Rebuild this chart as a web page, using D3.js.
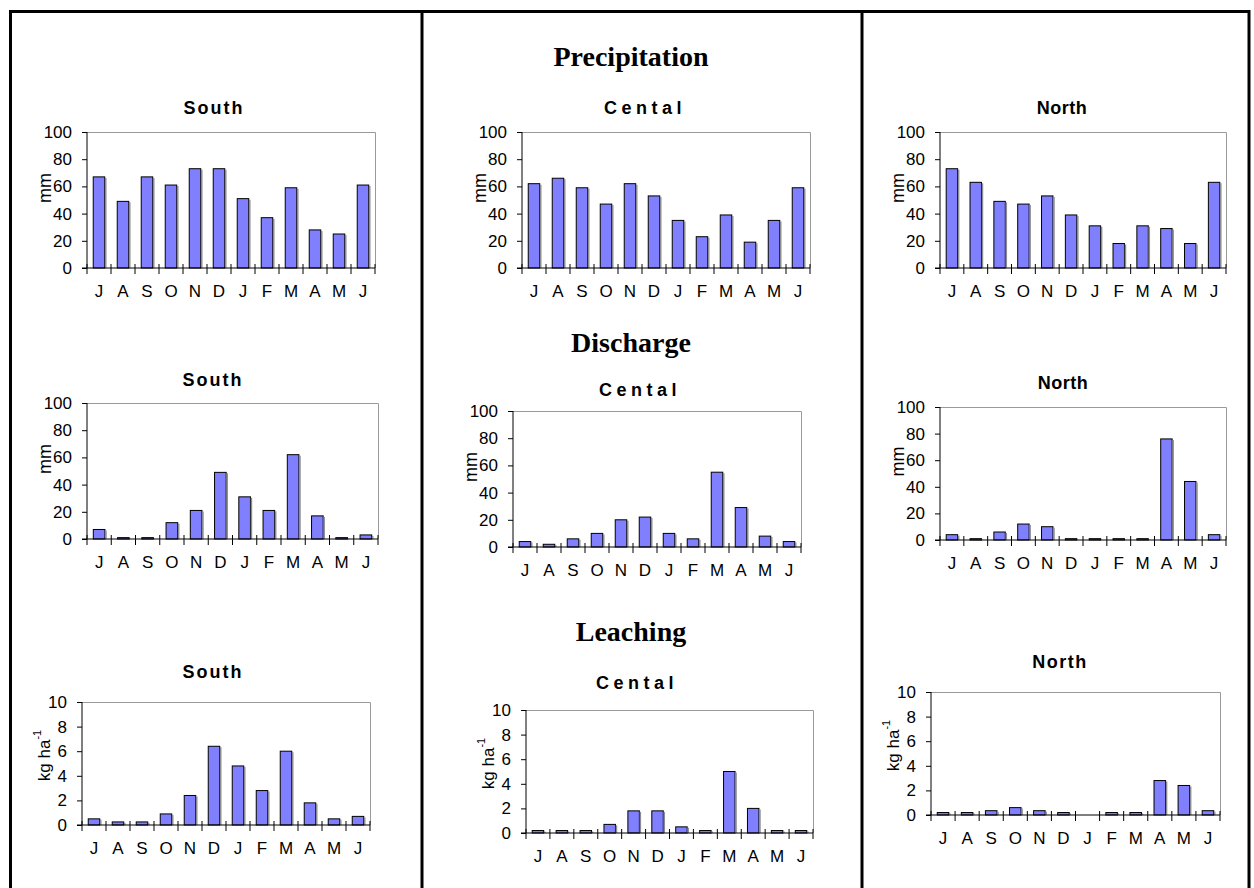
<!DOCTYPE html>
<html>
<head>
<meta charset="utf-8">
<script src="https://cdn.jsdelivr.net/npm/d3@7"></script>
<style>
  html, body { margin: 0; padding: 0; background: #fff; }
  svg { display: block; }
</style>
</head>
<body>
<svg id="chart" width="1254" height="888"></svg>
<script>
// Monthly values, hydrological year July -> June
const months = ["J", "A", "S", "O", "N", "D", "J", "F", "M", "A", "M", "J"];

const precipSouth   = [67, 49, 67, 61, 73, 73, 51, 37, 59, 28, 25, 61];
const precipCentral = [62, 66, 59, 47, 62, 53, 35, 23, 39, 19, 35, 59];
const precipNorth   = [73, 63, 49, 47, 53, 39, 31, 18, 31, 29, 18, 63];

const dischargeSouth   = [7, 1, 1, 12, 21, 49, 31, 21, 62, 17, 1, 3];
const dischargeCentral = [4, 2, 6, 10, 20, 22, 10, 6, 55, 29, 8, 4];
const dischargeNorth   = [4, 1, 6, 12, 10, 1, 1, 1, 1, 76, 44, 4];

const leachingSouth   = [0.5, 0.25, 0.25, 0.9, 2.4, 6.4, 4.8, 2.8, 6.0, 1.8, 0.5, 0.7];
const leachingCentral = [0.2, 0.2, 0.2, 0.7, 1.8, 1.8, 0.5, 0.2, 5.0, 2.0, 0.2, 0.2];
const leachingNorth   = [0.2, 0.2, 0.35, 0.6, 0.35, 0.2, 0, 0.2, 0.2, 2.8, 2.4, 0.35];

const mmTicks = [0, 20, 40, 60, 80, 100];
const kgTicks = [0, 2, 4, 6, 8, 10];

const sectionTitles = ["Precipitation", "Discharge", "Leaching"];

const SANS = "'Liberation Sans', Arial, sans-serif";
const SERIF = "'Liberation Serif', 'Times New Roman', serif";

const svg = d3.select("#chart");

// Frame: outer box and two column dividers
const frame = svg.append("g").attr("stroke", "#000").attr("stroke-width", 3).attr("fill", "none");
frame.append("path").attr("d", "M10.5,900 V11.5 H1249 V900");
frame.append("line").attr("x1", 422).attr("x2", 422).attr("y1", 11.5).attr("y2", 900);
frame.append("line").attr("x1", 862).attr("x2", 862).attr("y1", 11.5).attr("y2", 900);

// Section headings in the middle column
const headingY = [56, 342, 631];
sectionTitles.forEach((t, i) => {
  svg.append("text")
    .attr("x", 631).attr("y", headingY[i])
    .attr("text-anchor", "middle").attr("dominant-baseline", "central")
    .attr("font-family", SERIF).attr("font-weight", "bold").attr("font-size", 28)
    .text(t);
});

// Panel placement: plot rectangle, subtitle position
const panels = [
  { data: precipSouth,   unit: "mm", ticks: mmTicks, max: 100, title: "South",  ls: 2,   tx: 214, ty: 108, x0: 87,  x1: 375,  y0: 132, y1: 268 },
  { data: precipCentral, unit: "mm", ticks: mmTicks, max: 100, title: "Cental", ls: 4.5, tx: 645, ty: 108, x0: 522, x1: 810,  y0: 132, y1: 268 },
  { data: precipNorth,   unit: "mm", ticks: mmTicks, max: 100, title: "North",  ls: 0.5, tx: 1062, ty: 108, x0: 940, x1: 1226, y0: 132, y1: 268 },

  { data: dischargeSouth,   unit: "mm", ticks: mmTicks, max: 100, title: "South",  ls: 2,   tx: 213, ty: 380, x0: 87,  x1: 378,  y0: 403, y1: 539 },
  { data: dischargeCentral, unit: "mm", ticks: mmTicks, max: 100, title: "Cental", ls: 4.5, tx: 640, ty: 390, x0: 513, x1: 801,  y0: 411, y1: 547 },
  { data: dischargeNorth,   unit: "mm", ticks: mmTicks, max: 100, title: "North",  ls: 0.5, tx: 1063, ty: 383, x0: 940, x1: 1226, y0: 407, y1: 540 },

  { data: leachingSouth,   unit: "kg", ticks: kgTicks, max: 10, title: "South",  ls: 2,   tx: 213, ty: 672, x0: 82,  x1: 370,  y0: 702, y1: 825 },
  { data: leachingCentral, unit: "kg", ticks: kgTicks, max: 10, title: "Cental", ls: 4.5, tx: 637, ty: 683, x0: 526, x1: 813,  y0: 710, y1: 833 },
  { data: leachingNorth,   unit: "kg", ticks: kgTicks, max: 10, title: "North",  ls: 1.5, tx: 1060, ty: 662, x0: 931, x1: 1220, y0: 692, y1: 815 }
];

panels.forEach(p => {
  const g = svg.append("g");
  const x = d3.scaleBand().domain(d3.range(months.length)).range([p.x0, p.x1])
    .paddingInner(0.52).paddingOuter(0.26);
  const y = d3.scaleLinear().domain([0, p.max]).range([p.y1, p.y0]);

  // Subtitle
  g.append("text")
    .attr("x", p.tx).attr("y", p.ty)
    .attr("text-anchor", "middle").attr("dominant-baseline", "central")
    .attr("font-family", SANS).attr("font-weight", "bold").attr("font-size", 18)
    .attr("letter-spacing", p.ls)
    .text(p.title);

  // Plot-area top and right border
  g.append("path")
    .attr("d", `M${p.x0},${p.y0 + 0.5} H${p.x1 + 0.5} V${p.y1}`)
    .attr("fill", "none").attr("stroke", "#9a9a9a").attr("stroke-width", 1);

  // Bars
  const bars = g.append("g");
  p.data.forEach((v, i) => {
    if (v <= 0) return;
    const bx = x(i), bw = x.bandwidth(), by = y(v), bh = y(0) - y(v);
    bars.append("rect")
      .attr("x", bx).attr("y", by).attr("width", bw).attr("height", bh)
      .attr("fill", "#8080ff").attr("stroke", "#000").attr("stroke-width", 1);
    bars.append("line")
      .attr("x1", bx + bw + 1).attr("x2", bx + bw + 1).attr("y1", by + 1).attr("y2", y(0))
      .attr("stroke", "#8c8c8c").attr("stroke-width", 1.5);
  });

  // Y axis
  const yAxis = d3.axisLeft(y).tickValues(p.ticks).tickSize(5).tickPadding(10).tickFormat(d3.format("d"));
  const ya = g.append("g").attr("transform", `translate(${p.x0},0)`).call(yAxis);
  ya.select(".domain").attr("stroke", "#000").attr("d", `M0,${p.y0}V${p.y1}`);
  ya.selectAll("text").attr("font-family", SANS).attr("font-size", 17).attr("fill", "#000");

  // X axis: labels centred in bands, cross ticks at band edges
  const xAxis = d3.axisBottom(x).tickSize(0).tickPadding(17).tickFormat(i => months[i]);
  const xa = g.append("g").attr("transform", `translate(0,${p.y1})`).call(xAxis);
  xa.select(".domain").attr("stroke", "#000").attr("d", `M${p.x0 - 5},0H${p.x1}`);
  xa.selectAll("text").attr("font-family", SANS).attr("font-size", 17).attr("fill", "#000");
  const edges = d3.range(months.length + 1).map(k => p.x0 + k * x.step());
  xa.append("g").selectAll("line").data(edges).join("line")
    .attr("x1", d => d).attr("x2", d => d).attr("y1", -4).attr("y2", 6)
    .attr("stroke", "#000").attr("stroke-width", 1);

  // Y axis title
  const cy = (p.y0 + p.y1) / 2;
  if (p.unit === "mm") {
    g.append("text")
      .attr("transform", `translate(${p.x0 - 42},${cy - 12}) rotate(-90)`)
      .attr("text-anchor", "middle").attr("dominant-baseline", "central")
      .attr("font-family", SANS).attr("font-size", 18)
      .text("mm");
  } else {
    const t = g.append("text")
      .attr("transform", `translate(${p.x0 - 38},${cy - 8}) rotate(-90)`)
      .attr("text-anchor", "middle").attr("dominant-baseline", "central")
      .attr("font-family", SANS).attr("font-size", 17);
    t.append("tspan").text("kg ha");
    t.append("tspan").attr("font-size", 11).attr("dy", -7).text("-1");
  }
});
</script>
</body>
</html>
